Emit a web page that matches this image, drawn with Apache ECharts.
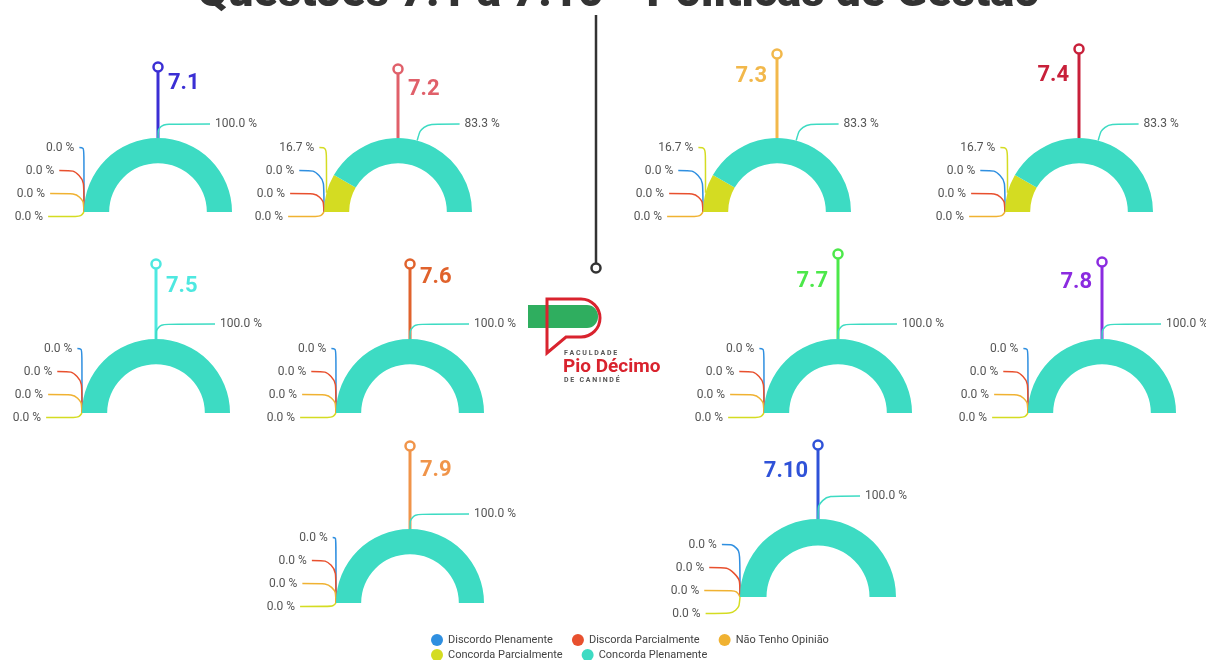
<!DOCTYPE html>
<html>
<head>
<meta charset="utf-8">
<script src="https://cdn.jsdelivr.net/npm/echarts@6/dist/echarts.min.js"></script>
<style>
  html, body { margin: 0; padding: 0; background: #fff; }
  #main { width: 1206px; height: 660px; }
</style>
</head>
<body>
<div id="main"></div>
<script>
  // categorias de resposta (legenda)
  const categorias = ['Discordo Plenamente', 'Discorda Parcialmente', 'Não Tenho Opinião', 'Concorda Parcialmente', 'Concorda Plenamente'];
  const coresCategorias = ['#2f8fe0', '#e8502e', '#f0b232', '#d4dc22', '#3ddbc3'];

  const questoes = ['7.1', '7.2', '7.3', '7.4', '7.5', '7.6', '7.7', '7.8', '7.9', '7.10'];
  const coresQuestoes = ['#3b2fd4', '#e0606a', '#f2b84b', '#c8203a', '#4ee8e0', '#e0622c', '#4ce84a', '#8b2be0', '#f0944a', '#2f52d8'];

  // respostas por questão (6 respondentes)
  const discordoPlenamente   = [0, 0, 0, 0, 0, 0, 0, 0, 0, 0];
  const discordaParcialmente = [0, 0, 0, 0, 0, 0, 0, 0, 0, 0];
  const naoTenhoOpiniao      = [0, 0, 0, 0, 0, 0, 0, 0, 0, 0];
  const concordaParcialmente = [0, 1, 1, 1, 0, 0, 0, 0, 0, 0];
  const concordaPlenamente   = [6, 5, 5, 5, 6, 6, 6, 6, 6, 6];

  const respostas = [discordoPlenamente, discordaParcialmente, naoTenhoOpiniao, concordaParcialmente, concordaPlenamente];

  // layout de cada meia rosca
  const centros = [[158, 212], [398, 212], [777, 212], [1079, 212], [156, 413], [410, 413], [838, 413], [1102, 413], [410, 603], [818, 597]];
  const raios = [74, 74, 74, 74, 74, 74, 74, 74, 74, 78];
  const folgaBase = [16, 16, 16, 16, 16, 16, 16, 16, 15, 28];   // limite inferior dos rótulos abaixo da base
  const linhaConcorda = [[14, 52], [17, 38], [17, 38], [17, 36], [15, 59], [15, 59], [15, 59], [15, 59], [15, 59], [23, 42]];
  const topoPino = [67, 69, 54, 49, 264, 264, 254, 262, 446, 445];
  const ladoRotulo = [1, 1, -1, -1, 1, 1, -1, -1, 1, -1];
  const alturaRotulo = [83, 89, 76, 75, 286, 277, 281, 282, 470, 471];

  const chart = echarts.init(document.getElementById('main'));

  let series = [];
  let graphics = [];

  questoes.forEach((q, i) => {
    const [cx, cy] = centros[i];
    const r = raios[i];
    const data = categorias.map((nome, k) => {
      let item = { name: nome, value: respostas[k][i] };
      if (k === 4) item.labelLine = { length: linhaConcorda[i][0], length2: linhaConcorda[i][1] };
      return item;
    });
    series.push({
      type: 'pie',
      name: q,
      // caixa do layout termina logo abaixo da base, para os rótulos subirem
      left: cx - 200,
      top: cy - 230,
      width: 400,
      height: 230 + folgaBase[i],
      center: [200, 230],
      radius: [r * 0.66, r],
      startAngle: 180,
      endAngle: 359.95,
      animation: false,
      emphasis: { scale: false },
      label: {
        formatter: (p) => p.percent.toFixed(1) + ' %',
        color: '#555',
        fontSize: 12,
        lineHeight: 21,
        fontFamily: 'Roboto'
      },
      labelLine: { length: 8, length2: 33, smooth: 0.4, lineStyle: { width: 1.5 } },
      data: data
    });

    // pino com o número da questão
    const cor = coresQuestoes[i];
    graphics.push({
      type: 'line', z: 1,
      shape: { x1: cx, y1: topoPino[i], x2: cx, y2: cy - r },
      style: { stroke: cor, lineWidth: 3 }
    });
    graphics.push({
      type: 'circle', z: 3,
      shape: { cx: cx, cy: topoPino[i], r: 4.5 },
      style: { fill: '#fff', stroke: cor, lineWidth: 2.5 }
    });
    graphics.push({
      type: 'text', z: 3,
      x: cx + 10 * ladoRotulo[i],
      y: alturaRotulo[i],
      style: {
        text: q,
        fill: cor,
        font: 'bold 22px Roboto',
        textAlign: ladoRotulo[i] > 0 ? 'left' : 'right',
        textVerticalAlign: 'middle'
      }
    });
  });

  // linha central e logotipo
  graphics.push({ type: 'line', shape: { x1: 596, y1: 15, x2: 596, y2: 263 }, style: { stroke: '#333', lineWidth: 2.5 } });
  graphics.push({ type: 'circle', z: 3, shape: { cx: 596, cy: 268, r: 4.5 }, style: { fill: '#fff', stroke: '#333', lineWidth: 2.5 } });
  graphics.push({ type: 'rect', shape: { x: 528, y: 305, width: 70, height: 23, r: [0, 11, 11, 0] }, style: { fill: '#2fae5f' } });
  graphics.push({
    type: 'polyline', z: 3,
    shape: { points: [[581, 337], [566, 337], [547, 353], [547, 299], [581, 299]] },
    style: { stroke: '#d9232e', lineWidth: 3, fill: null }
  });
  graphics.push({
    type: 'arc', z: 3,
    shape: { cx: 581, cy: 318, r: 19, startAngle: -Math.PI / 2, endAngle: Math.PI / 2, clockwise: true },
    style: { stroke: '#d9232e', lineWidth: 3, fill: null }
  });
  graphics.push({ type: 'text', x: 564, y: 353, style: { text: 'F A C U L D A D E', fill: '#555', font: 'bold 7px Roboto', textVerticalAlign: 'middle' } });
  graphics.push({ type: 'text', x: 563, y: 367, style: { text: 'Pio Décimo', fill: '#d9232e', font: 'bold 19px Roboto', textVerticalAlign: 'middle' } });
  graphics.push({ type: 'text', x: 564, y: 380, style: { text: 'D E   C A N I N D É', fill: '#555', font: 'bold 7px Roboto', textVerticalAlign: 'middle' } });

  const option = {
    color: coresCategorias,
    title: {
      text: 'Questões 7.1 a 7.10 - Políticas de Gestão',
      left: 192,
      top: -33,
      textStyle: { fontSize: 45, fontWeight: 900, color: '#333', fontFamily: 'Roboto' }
    },
    legend: [
      {
        data: categorias.slice(0, 3),
        left: 426, top: 629,
        icon: 'circle', itemWidth: 12, itemHeight: 12, itemGap: 19,
        textStyle: { fontSize: 11, color: '#444', fontFamily: 'Roboto' }
      },
      {
        data: categorias.slice(3),
        left: 426, top: 644,
        icon: 'circle', itemWidth: 12, itemHeight: 12, itemGap: 19,
        textStyle: { fontSize: 11, color: '#444', fontFamily: 'Roboto' }
      }
    ],
    graphic: graphics,
    series: series
  };

  option && chart.setOption(option);
</script>
</body>
</html>
